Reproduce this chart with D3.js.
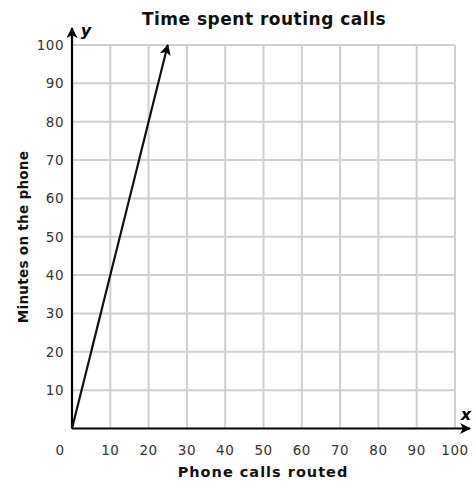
<!doctype html>
<html>
<head>
<meta charset="utf-8">
<style>
  body { margin: 0; background: #fff; }
  text { font-family: "DejaVu Sans", Verdana, sans-serif; }
</style>
</head>
<body>
<svg width="475" height="482"></svg>
<script src="https://d3js.org/d3.v7.min.js"></script>
<script>
var calls = [0, 25];
var minutes = [0, 100];
var xTicks = [0, 10, 20, 30, 40, 50, 60, 70, 80, 90, 100];
var yTicks = [10, 20, 30, 40, 50, 60, 70, 80, 90, 100];
var gridVals = [10, 20, 30, 40, 50, 60, 70, 80, 90, 100];

var svg = d3.select("svg");
var x = d3.scaleLinear().domain([0, 100]).range([72, 455]);
var y = d3.scaleLinear().domain([0, 100]).range([428.5, 45]);

var defs = svg.append("defs");
defs.append("marker")
    .attr("id", "arrow")
    .attr("viewBox", "0 0 10 10")
    .attr("refX", 9).attr("refY", 5)
    .attr("markerWidth", 5).attr("markerHeight", 5)
    .attr("markerUnits", "strokeWidth")
    .attr("orient", "auto")
  .append("path")
    .attr("d", "M0,0 L10,5 L0,10 L2.5,5 Z")
    .attr("fill", "#000");

// grid
svg.append("g").selectAll("line.v").data(gridVals).join("line")
    .attr("x1", d => x(d)).attr("x2", d => x(d))
    .attr("y1", y(0)).attr("y2", y(100))
    .attr("stroke", "#cfcfcf").attr("stroke-width", 2);
svg.append("g").selectAll("line.h").data(gridVals).join("line")
    .attr("y1", d => y(d)).attr("y2", d => y(d))
    .attr("x1", x(0)).attr("x2", x(100))
    .attr("stroke", "#cfcfcf").attr("stroke-width", 2);

// axes
svg.append("line")
    .attr("x1", x(0)).attr("x2", x(100) + 15)
    .attr("y1", y(0)).attr("y2", y(0))
    .attr("stroke", "#000").attr("stroke-width", 2.2)
    .attr("marker-end", "url(#arrow)");
svg.append("line")
    .attr("x1", x(0)).attr("x2", x(0))
    .attr("y1", y(0)).attr("y2", y(100) - 17)
    .attr("stroke", "#000").attr("stroke-width", 2.2)
    .attr("marker-end", "url(#arrow)");

// tick labels
svg.append("g").selectAll("text").data(xTicks).join("text")
    .attr("x", d => d === 0 ? x(d) - 12 : x(d))
    .attr("y", 455)
    .attr("text-anchor", "middle")
    .attr("font-size", 13.5)
    .attr("letter-spacing", 0.5)
    .attr("fill", "#333")
    .text(d => d);
svg.append("g").selectAll("text").data(yTicks).join("text")
    .attr("x", 64)
    .attr("y", d => y(d) + 5)
    .attr("text-anchor", "end")
    .attr("font-size", 13.5)
    .attr("letter-spacing", 0.5)
    .attr("fill", "#333")
    .text(d => d);

// line
var line = d3.line().x((d, i) => x(calls[i])).y(d => y(d));
svg.append("path")
    .datum(minutes)
    .attr("fill", "none")
    .attr("stroke", "#111")
    .attr("stroke-width", 2.2)
    .attr("d", line)
    .attr("marker-end", "url(#arrow)");

// axis letters
svg.append("text").attr("x", 466).attr("y", 420)
    .attr("text-anchor", "middle").attr("font-size", 16)
    .attr("font-style", "italic").attr("font-weight", "bold").text("x");
svg.append("text").attr("x", 86).attr("y", 36)
    .attr("text-anchor", "middle").attr("font-size", 16)
    .attr("font-style", "italic").attr("font-weight", "bold").text("y");

// titles
svg.append("text").attr("x", 264).attr("y", 25)
    .attr("text-anchor", "middle").attr("font-size", 17)
    .attr("letter-spacing", 0.5)
    .attr("font-weight", "bold").attr("fill", "#111")
    .text("Time spent routing calls");
svg.append("text").attr("x", 263).attr("y", 477)
    .attr("text-anchor", "middle").attr("font-size", 14.5)
    .attr("letter-spacing", 1)
    .attr("font-weight", "bold").attr("fill", "#111")
    .text("Phone calls routed");
svg.append("text")
    .attr("transform", "translate(28,237) rotate(-90)")
    .attr("text-anchor", "middle").attr("font-size", 13.5)
    .attr("letter-spacing", 0.3)
    .attr("font-weight", "bold").attr("fill", "#111")
    .text("Minutes on the phone");
</script>
</body>
</html>
